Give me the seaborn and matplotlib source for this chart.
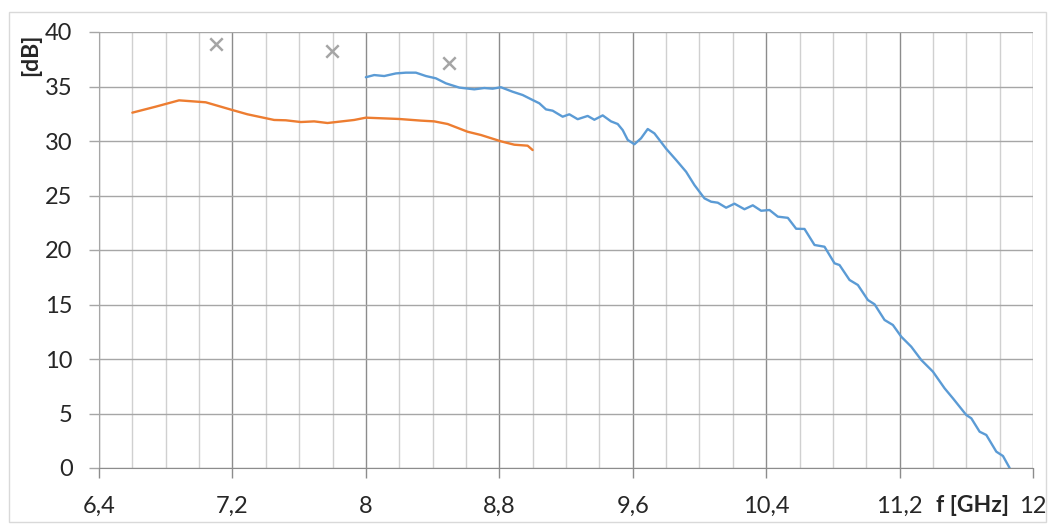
import numpy as np
import pandas as pd
import matplotlib
matplotlib.use('Agg')
import matplotlib.pyplot as plt
import seaborn as sns
from matplotlib.ticker import MultipleLocator, FuncFormatter
from matplotlib.patches import Rectangle

# dane
f_orange = [6.60, 6.74, 6.88, 7.04, 7.20, 7.29, 7.45, 7.52, 7.61, 7.69, 7.77,
            7.93, 8.00, 8.20, 8.33, 8.41, 8.49, 8.61, 8.69, 8.81, 8.89, 8.97, 9.00]
db_orange = [32.6, 33.15, 33.73, 33.55, 32.84, 32.45, 31.93, 31.9, 31.74, 31.8, 31.65,
             31.93, 32.14, 32.02, 31.87, 31.8, 31.56, 30.85, 30.55, 29.97, 29.66, 29.57, 29.17]

f_blue = [8.00, 8.05, 8.11, 8.18, 8.24, 8.30, 8.36, 8.42, 8.48, 8.56, 8.65, 8.71,
          8.76, 8.81, 8.88, 8.94, 9.00, 9.04, 9.08, 9.12, 9.18, 9.22, 9.27, 9.33,
          9.37, 9.42, 9.47, 9.51, 9.54, 9.57, 9.61, 9.65, 9.69, 9.73, 9.80, 9.86,
          9.92, 9.97, 10.03, 10.07, 10.11, 10.16, 10.21, 10.27, 10.32, 10.37, 10.42,
          10.47, 10.53, 10.58, 10.63, 10.69, 10.75, 10.81, 10.84, 10.90, 10.95,
          11.01, 11.05, 11.11, 11.16, 11.21, 11.27, 11.33, 11.40, 11.47, 11.52,
          11.60, 11.63, 11.68, 11.72, 11.78, 11.82, 11.86]
db_blue = [35.85, 36.05, 35.96, 36.2, 36.27, 36.27, 35.96, 35.75, 35.29, 34.9, 34.74, 34.86,
           34.8, 34.93, 34.52, 34.22, 33.76, 33.46, 32.9, 32.78, 32.23, 32.45, 32.0, 32.3,
           31.95, 32.35, 31.8, 31.56, 31.0, 30.1, 29.7, 30.25, 31.1, 30.7, 29.3, 28.26,
           27.18, 25.96, 24.74, 24.43, 24.34, 23.88, 24.25, 23.74, 24.1, 23.6, 23.67,
           23.06, 22.95, 21.95, 21.93, 20.46, 20.3, 18.78, 18.62, 17.25, 16.79,
           15.41, 15.02, 13.58, 13.12, 12.05, 11.13, 9.91, 8.84, 7.31, 6.39,
           4.86, 4.56, 3.33, 3.03, 1.5, 1.1, 0.0]

f_marks = [7.1, 7.8, 8.5]
db_marks = [38.9, 38.25, 37.2]

sns.set_style('white')
plt.rcParams['font.family'] = ['Lato', 'DejaVu Sans']

fig = plt.figure(figsize=(10.49, 5.24), dpi=100)
ax = fig.add_axes([99 / 1049, 1 - 468 / 524, 934 / 1049, 436 / 524])

# ramka wykresu (styl Excel)
fig.patches.append(Rectangle((9 / 1049, 2 / 524), 1037 / 1049, 510 / 524,
                             transform=fig.transFigure, fill=False,
                             edgecolor='#d9d9d9', linewidth=1))

df_o = pd.DataFrame({'f': f_orange, 'dB': db_orange})
df_b = pd.DataFrame({'f': f_blue, 'dB': db_blue})
df_m = pd.DataFrame({'f': f_marks, 'dB': db_marks})

sns.lineplot(data=df_o, x='f', y='dB', ax=ax, color='#ED7D31', linewidth=1.7,
             sort=False, estimator=None, zorder=3)
sns.lineplot(data=df_b, x='f', y='dB', ax=ax, color='#5B9BD5', linewidth=1.7,
             sort=False, estimator=None, zorder=3)
sns.scatterplot(data=df_m, x='f', y='dB', ax=ax, marker='x', color='#A5A5A5',
                s=80, linewidth=1.8, zorder=3)

ax.set_xlim(6.4, 12)
ax.set_ylim(0, 40)
ax.xaxis.set_major_locator(MultipleLocator(0.8))
ax.xaxis.set_minor_locator(MultipleLocator(0.2))
ax.yaxis.set_major_locator(MultipleLocator(5))

fmt = FuncFormatter(lambda v, p: ('%g' % round(v, 2)).replace('.', ','))
ax.xaxis.set_major_formatter(fmt)

ax.grid(which='major', axis='x', color='#8c8c8c', linewidth=1)
ax.grid(which='minor', axis='x', color='#d0d0d0', linewidth=1)
ax.grid(which='major', axis='y', color='#a6a6a6', linewidth=1)
ax.set_axisbelow(True)

for s in ['top', 'right']:
    ax.spines[s].set_visible(False)
ax.spines['left'].set_color('#a6a6a6')
ax.spines['bottom'].set_color('#8c8c8c')

ax.tick_params(axis='x', which='major', direction='out', length=7, width=1,
               color='#8c8c8c', pad=13, labelsize=17)
ax.tick_params(axis='x', which='minor', length=0)
ax.tick_params(axis='y', direction='out', length=7, width=1, color='#a6a6a6',
               pad=12, labelsize=17)
ax.tick_params(bottom=True, left=True)

ax.set_xlabel('')
ax.set_ylabel('')
fig.text(31 / 1049, 1 - 55 / 524, '[dB]', rotation=90, ha='center', va='center',
         fontsize=16.5, fontweight='bold')
fig.text(973 / 1049, 1 - 505 / 524, 'f [GHz]', ha='center', va='center',
         fontsize=16.5, fontweight='bold')

plt.savefig('out.png', dpi=100)
